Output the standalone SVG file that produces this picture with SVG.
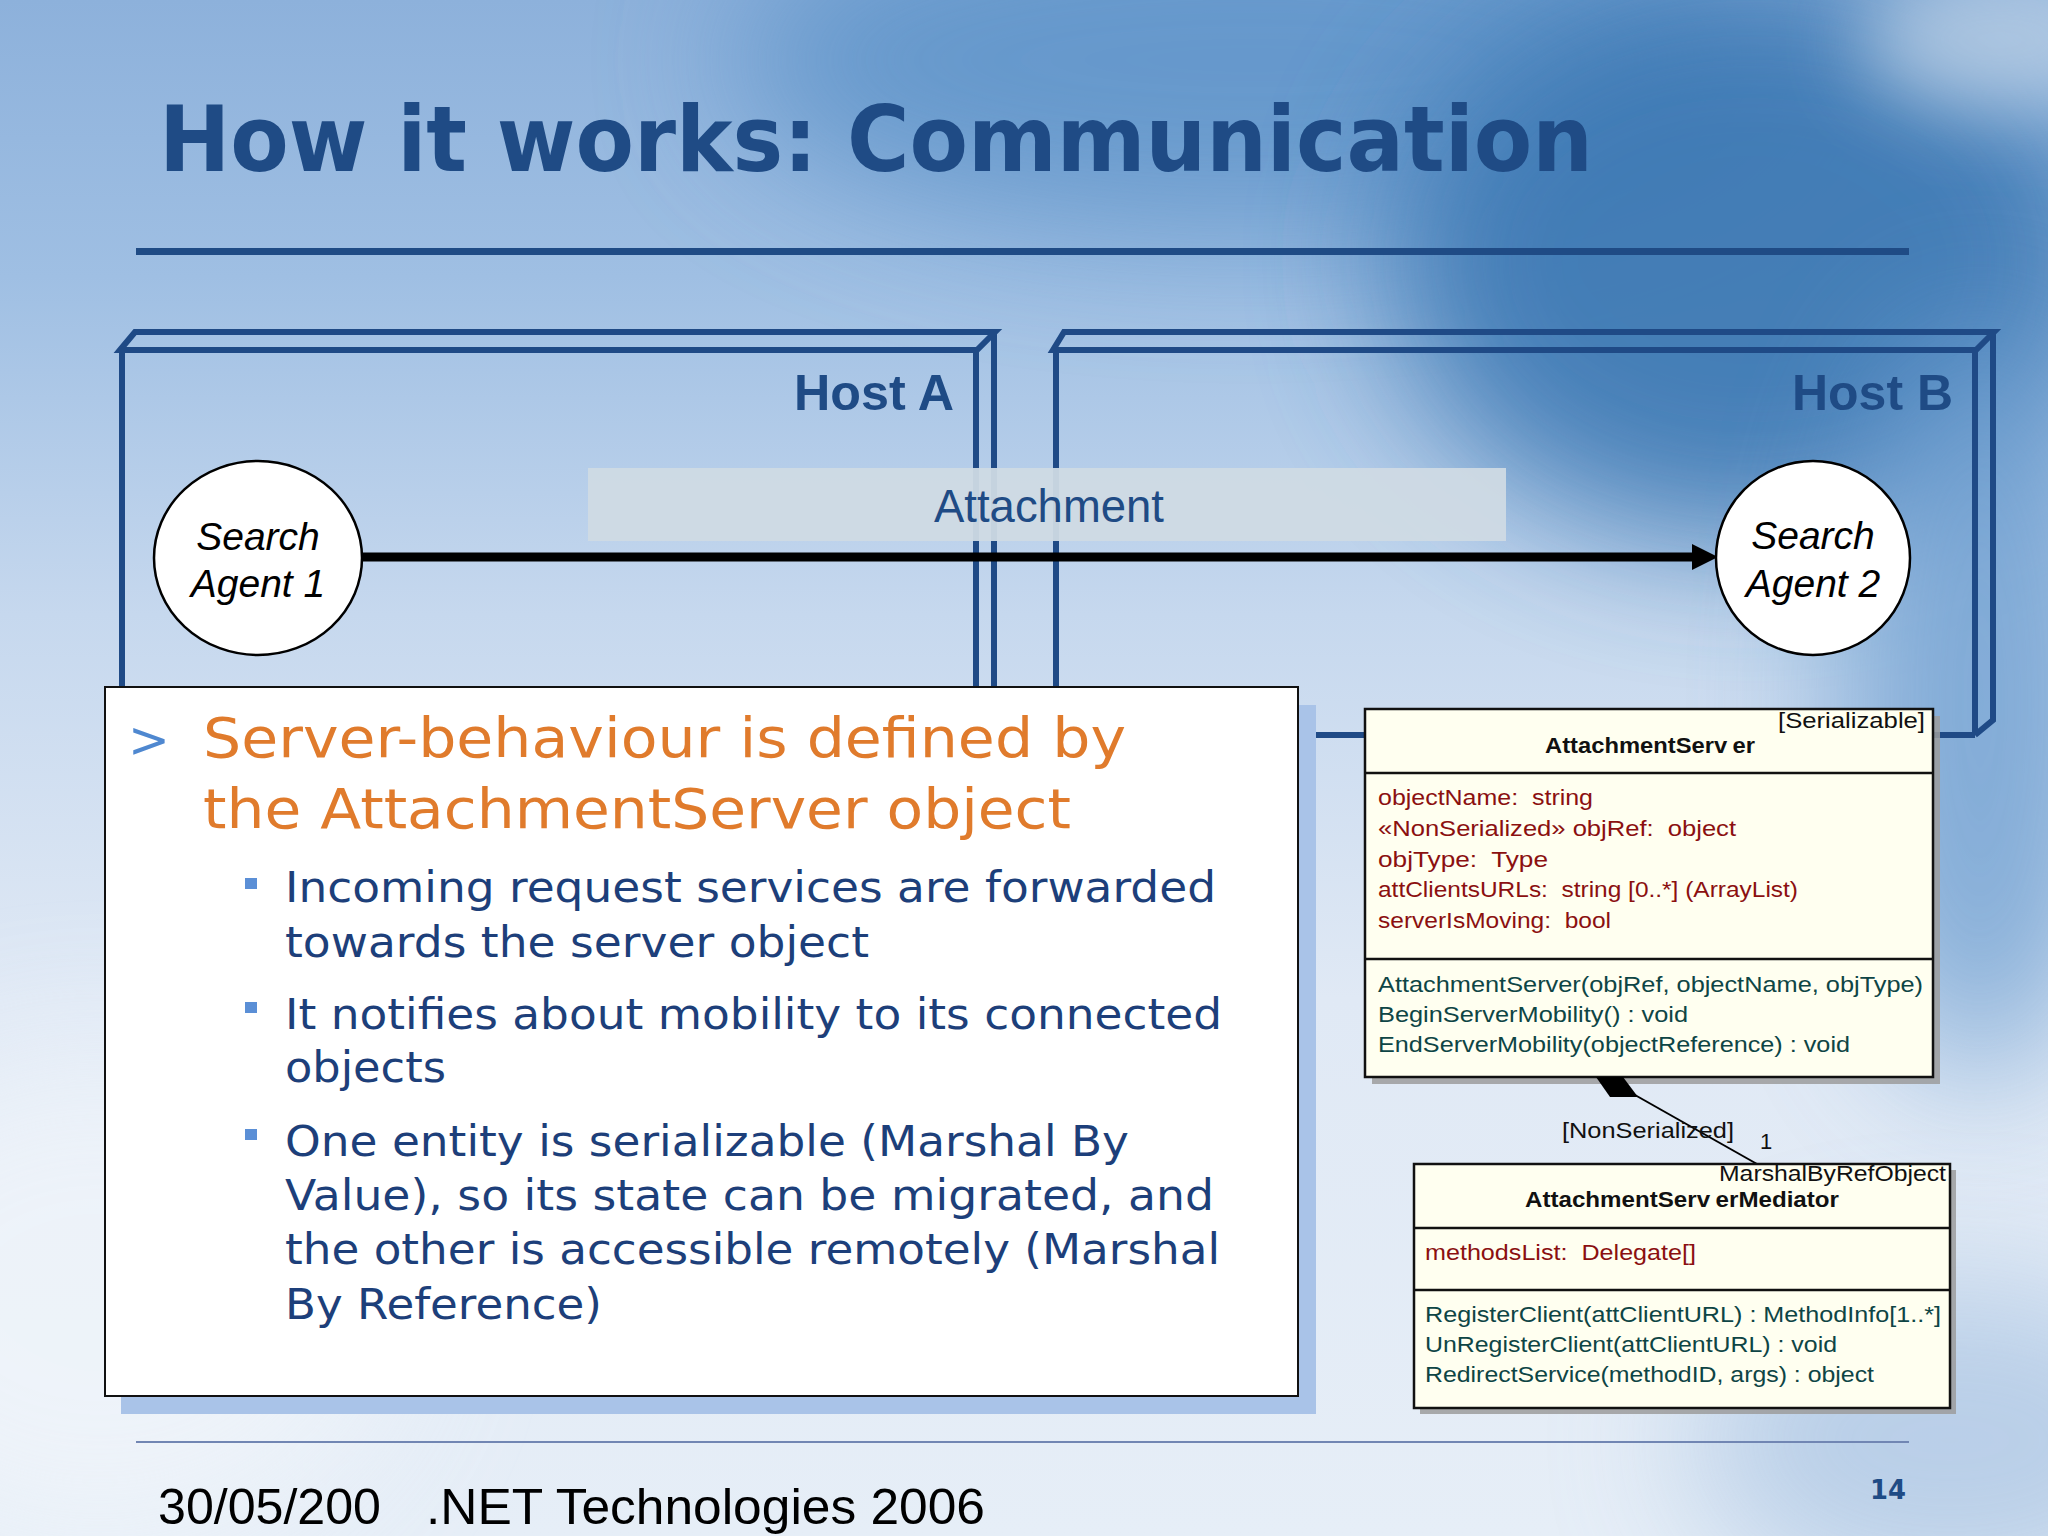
<svg xmlns="http://www.w3.org/2000/svg" width="2048" height="1536" viewBox="0 0 2048 1536">
<defs>
  <linearGradient id="bg" x1="0" y1="0" x2="0" y2="1">
    <stop offset="0" stop-color="#8db1db"/>
    <stop offset="0.18" stop-color="#9fbfe3"/>
    <stop offset="0.4" stop-color="#c6d8ee"/>
    <stop offset="0.65" stop-color="#e0e9f5"/>
    <stop offset="1" stop-color="#e6eef7"/>
  </linearGradient>
  <filter id="blur" x="-60%" y="-60%" width="220%" height="220%"><feGaussianBlur stdDeviation="70"/></filter>
  <filter id="blur2" x="-60%" y="-60%" width="220%" height="220%"><feGaussianBlur stdDeviation="40"/></filter>
  <marker id="arrowhead" markerUnits="userSpaceOnUse" markerWidth="26" markerHeight="26" viewBox="0 0 26 26" refX="0" refY="13" orient="auto">
    <path d="M0,0 L26,13 L0,26 z" fill="#000"/>
  </marker>
  <style>
    .host { fill: none; stroke: #1f4a86; stroke-width: 6; stroke-linejoin: miter; }
    .hlabel { font-family: "Liberation Sans", Arial, sans-serif; font-weight: bold; font-size: 50px; fill: #1f4b85; }
    .agent { fill: #fff; stroke: #000; stroke-width: 2.5; }
    .agentTxt { font-family: "Liberation Sans", Arial, sans-serif; font-style: italic; font-size: 39px; fill: #000; text-anchor: middle; }
    .orange { font-family: "DejaVu Sans", Verdana, sans-serif; font-size: 55px; fill: #e07b2c; }
    .btxt { font-family: "DejaVu Sans", Verdana, sans-serif; font-size: 43px; fill: #1d3f7a; }
    .bul { fill: #5b8fd6; }
    .uml { fill: #fffff0; stroke: #111; stroke-width: 2.5; }
    .shadow { fill: #9c9c9c; opacity: 0.85; }
    .div { stroke: #111; stroke-width: 2.5; }
    .u { font-family: "Liberation Sans", Arial, sans-serif; font-size: 22px; fill: #111; white-space: pre; }
    .ub { font-family: "Liberation Sans", Arial, sans-serif; font-size: 22px; font-weight: bold; fill: #111; white-space: pre; }
    .attr { font-family: "Liberation Sans", Arial, sans-serif; font-size: 22px; fill: #8b1010; white-space: pre; }
    .op { font-family: "Liberation Sans", Arial, sans-serif; font-size: 22px; fill: #0e4545; white-space: pre; }
  </style>
</defs>

<!-- background -->
<g id="background">
  <rect x="0" y="0" width="2048" height="1536" fill="url(#bg)"/>
  <ellipse cx="1250" cy="60" rx="520" ry="170" fill="#5c92c8" opacity="0.8" filter="url(#blur)"/>
  <ellipse cx="1750" cy="260" rx="360" ry="280" fill="#3a77b2" opacity="0.9" filter="url(#blur)"/>
  <ellipse cx="1980" cy="700" rx="140" ry="380" fill="#6e9fd0" opacity="0.8" filter="url(#blur)"/>
  <ellipse cx="2000" cy="40" rx="140" ry="70" fill="#bcd0e6" opacity="0.8" filter="url(#blur2)"/>
  <ellipse cx="1950" cy="1440" rx="260" ry="160" fill="#aec7e4" opacity="0.8" filter="url(#blur)"/>
  <ellipse cx="100" cy="1300" rx="300" ry="250" fill="#f2f6fb" opacity="0.7" filter="url(#blur)"/>
</g>

<!-- title -->
<g id="title">
  <text x="159" y="171" font-family="DejaVu Sans, Verdana, sans-serif" font-weight="bold" font-size="90" fill="#1f4b85" textLength="1434" lengthAdjust="spacingAndGlyphs">How it works: Communication</text>
  <rect x="136" y="248" width="1773" height="7" fill="#1f4b85"/>
</g>

<!-- Host A -->
<g id="hostA">
  <path class="host" d="M120,350 L135,332 H995 L977,350 Z"/>
  <path class="host" d="M122,350 V690"/>
  <path class="host" d="M976,350 V690"/>
  <path class="host" d="M994,332 V690"/>
  <text class="hlabel" x="794" y="410" textLength="160" lengthAdjust="spacingAndGlyphs">Host A</text>
</g>

<!-- Host B -->
<g id="hostB">
  <path class="host" d="M1053,350 L1064,332 H1994 L1976,350 Z"/>
  <path class="host" d="M1056,350 V690"/>
  <path class="host" d="M1975,350 V735"/>
  <path class="host" d="M1993,332 V720 L1975,735"/>
  <path class="host" d="M1290,735 H1975"/>
  <text class="hlabel" x="1792" y="410" textLength="161" lengthAdjust="spacingAndGlyphs">Host B</text>
</g>

<!-- Attachment band -->
<g id="attachment">
  <rect x="588" y="468" width="918" height="73" fill="#cfdae4" opacity="0.95"/>
  <text x="934" y="522" font-family="Liberation Sans, Arial, sans-serif" font-size="46" fill="#1f4b85" textLength="230" lengthAdjust="spacingAndGlyphs">Attachment</text>
</g>

<!-- connectors -->
<g id="connectors">
  <line x1="362" y1="557" x2="1692" y2="557" stroke="#000" stroke-width="9" marker-end="url(#arrowhead)"/>
</g>

<!-- agents -->
<g id="agent1">
  <ellipse class="agent" cx="258" cy="558" rx="104" ry="97"/>
  <text class="agentTxt" x="258" y="550">Search</text>
  <text class="agentTxt" x="258" y="597">Agent 1</text>
</g>
<g id="agent2">
  <ellipse class="agent" cx="1813" cy="558" rx="97" ry="97"/>
  <text class="agentTxt" x="1813" y="549">Search</text>
  <text class="agentTxt" x="1813" y="597">Agent 2</text>
</g>

<!-- text box -->
<g id="textbox">
  <rect x="121" y="705" width="1195" height="709" fill="#a9c3e8"/>
  <rect x="105" y="687" width="1193" height="709" fill="#fff" stroke="#111" stroke-width="2"/>
  <text x="128" y="757" font-family="DejaVu Sans, Verdana, sans-serif" font-size="50" fill="#4f88d0">&gt;</text>
  <text class="orange" x="203" y="757" textLength="923" lengthAdjust="spacingAndGlyphs">Server-behaviour is defined by</text>
  <text class="orange" x="203" y="828" textLength="868" lengthAdjust="spacingAndGlyphs">the AttachmentServer object</text>
  <rect class="bul" x="245" y="878" width="12" height="11"/>
  <rect class="bul" x="245" y="1002" width="12" height="11"/>
  <rect class="bul" x="245" y="1129" width="12" height="11"/>
  <text class="btxt" x="285" y="902" textLength="931" lengthAdjust="spacingAndGlyphs">Incoming request services are forwarded</text>
  <text class="btxt" x="285" y="957" textLength="584" lengthAdjust="spacingAndGlyphs">towards the server object</text>
  <text class="btxt" x="285" y="1029" textLength="937" lengthAdjust="spacingAndGlyphs">It notifies about mobility to its connected</text>
  <text class="btxt" x="285" y="1082" textLength="161" lengthAdjust="spacingAndGlyphs">objects</text>
  <text class="btxt" x="285" y="1156" textLength="844" lengthAdjust="spacingAndGlyphs">One entity is serializable (Marshal By</text>
  <text class="btxt" x="285" y="1210" textLength="929" lengthAdjust="spacingAndGlyphs">Value), so its state can be migrated, and</text>
  <text class="btxt" x="285" y="1264" textLength="935" lengthAdjust="spacingAndGlyphs">the other is accessible remotely (Marshal</text>
  <text class="btxt" x="285" y="1319" textLength="317" lengthAdjust="spacingAndGlyphs">By Reference)</text>
</g>

<!-- UML: AttachmentServer -->
<g id="attachmentServer">
  <rect class="shadow" x="1372" y="716" width="568" height="368"/>
  <rect class="uml" x="1365" y="709" width="568" height="368"/>
  <line class="div" x1="1365" y1="773" x2="1933" y2="773"/>
  <line class="div" x1="1365" y1="959" x2="1933" y2="959"/>
  <text class="u" x="1778" y="728" textLength="147" lengthAdjust="spacingAndGlyphs">[Serializable]</text>
  <text class="ub" x="1545" y="753" textLength="210" lengthAdjust="spacingAndGlyphs">AttachmentServ<tspan dx="5">er</tspan></text>
  <text class="attr" x="1378" y="805" textLength="215" lengthAdjust="spacingAndGlyphs">objectName:  string</text>
  <text class="attr" x="1378" y="836" textLength="358" lengthAdjust="spacingAndGlyphs">«NonSerialized» objRef:  object</text>
  <text class="attr" x="1378" y="867" textLength="170" lengthAdjust="spacingAndGlyphs">objType:  Type</text>
  <text class="attr" x="1378" y="897" textLength="420" lengthAdjust="spacingAndGlyphs">attClientsURLs:  string [0..*] (ArrayList)</text>
  <text class="attr" x="1378" y="928" textLength="233" lengthAdjust="spacingAndGlyphs">serverIsMoving:  bool</text>
  <text class="op" x="1378" y="992" textLength="545" lengthAdjust="spacingAndGlyphs">AttachmentServer(objRef, objectName, objType)</text>
  <text class="op" x="1378" y="1022" textLength="310" lengthAdjust="spacingAndGlyphs">BeginServerMobility() : void</text>
  <text class="op" x="1378" y="1052" textLength="472" lengthAdjust="spacingAndGlyphs">EndServerMobility(objectReference) : void</text>
</g>

<!-- composition -->
<g id="composition">
  <line x1="1635" y1="1095" x2="1757" y2="1164" stroke="#000" stroke-width="2"/>
  <polygon points="1596,1077 1623,1077 1638,1097 1610,1097" fill="#000"/>
  <text class="u" x="1562" y="1138" textLength="172" lengthAdjust="spacingAndGlyphs">[NonSerialized]</text>
  <text class="u" x="1760" y="1149">1</text>
</g>

<!-- UML: AttachmentServerMediator -->
<g id="attachmentServerMediator">
  <rect class="shadow" x="1420" y="1170" width="536" height="244"/>
  <rect class="uml" x="1414" y="1164" width="536" height="244"/>
  <line class="div" x1="1414" y1="1228" x2="1950" y2="1228"/>
  <line class="div" x1="1414" y1="1290" x2="1950" y2="1290"/>
  <text class="u" x="1719" y="1181" textLength="227" lengthAdjust="spacingAndGlyphs">MarshalByRefObject</text>
  <text class="ub" x="1525" y="1207" textLength="314" lengthAdjust="spacingAndGlyphs">AttachmentServ<tspan dx="5">erMediator</tspan></text>
  <text class="attr" x="1425" y="1260" textLength="271" lengthAdjust="spacingAndGlyphs">methodsList:  Delegate[]</text>
  <text class="op" x="1425" y="1322" textLength="516" lengthAdjust="spacingAndGlyphs">RegisterClient(attClientURL) : MethodInfo[1..*]</text>
  <text class="op" x="1425" y="1352" textLength="412" lengthAdjust="spacingAndGlyphs">UnRegisterClient(attClientURL) : void</text>
  <text class="op" x="1425" y="1382" textLength="449" lengthAdjust="spacingAndGlyphs">RedirectService(methodID, args) : object</text>
</g>

<!-- footer -->
<g id="footer">
  <rect x="136" y="1441" width="1773" height="2" fill="#7186b3"/>
  <text x="158" y="1524" font-family="Liberation Sans, Arial, sans-serif" font-size="50" fill="#000" textLength="223" lengthAdjust="spacingAndGlyphs">30/05/200</text>
  <text x="426" y="1524" font-family="Liberation Sans, Arial, sans-serif" font-size="50" fill="#000" textLength="559" lengthAdjust="spacingAndGlyphs">.NET Technologies 2006</text>
  <text x="1870" y="1499" font-family="DejaVu Sans, Verdana, sans-serif" font-weight="bold" font-size="27" fill="#1f4b85" textLength="36" lengthAdjust="spacingAndGlyphs">14</text>
</g>
</svg>
